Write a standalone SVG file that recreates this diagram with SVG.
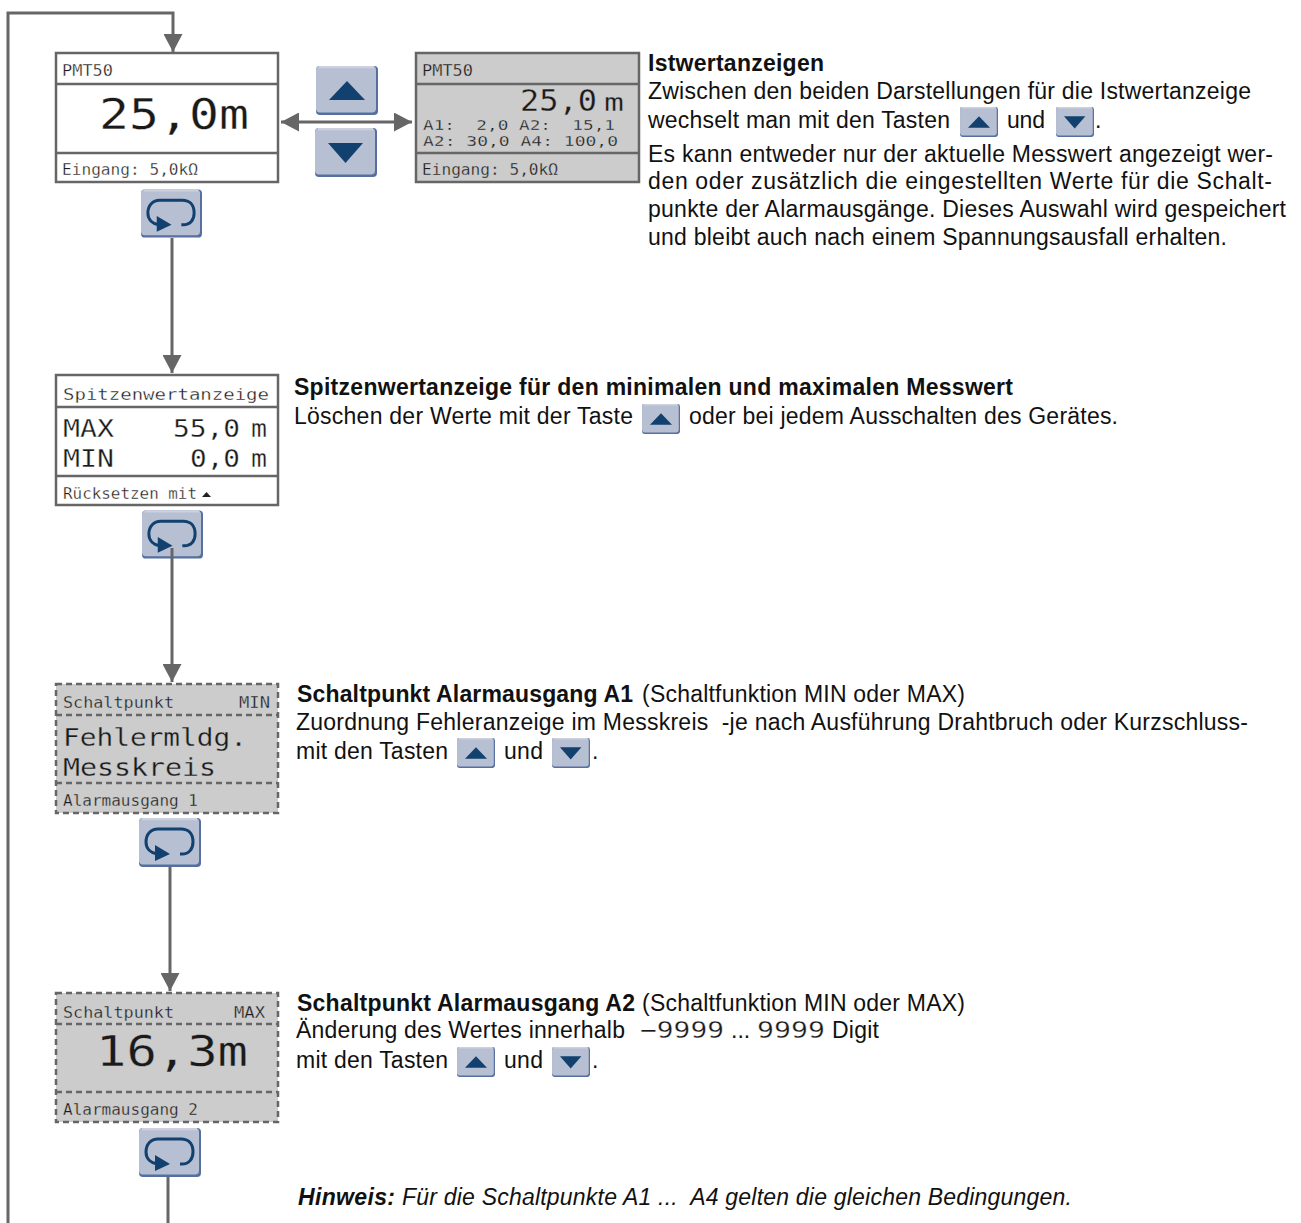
<svg xmlns="http://www.w3.org/2000/svg" width="1301" height="1223" viewBox="0 0 1301 1223">
<style>
text{font-family:"Liberation Sans",Arial,sans-serif;font-size:23px;fill:#111;white-space:pre}
.b{font-weight:bold}
.i{font-style:italic}
.l{font-family:"DejaVu Sans Mono","Liberation Mono",monospace;fill:#1a1a1a;stroke:#fff;stroke-width:.3}
.g .l{stroke:#ccc}
.s{font-size:15.5px}
.m{font-size:25.5px}
.h{font-size:42px}
.p{fill:#fff;stroke:#666;stroke-width:2.5}
.q{fill:#ccc;stroke:#666;stroke-width:2.5}
.d{fill:#ccc;stroke:#666;stroke-width:2.5;stroke-dasharray:6 4}
.sep{stroke:#666;stroke-width:2.500;fill:none}
.sd{stroke:#666;stroke-width:2.5;fill:none;stroke-dasharray:6 4}
.c{stroke:#666;stroke-width:3;fill:none}
</style>
<defs>
<marker id="ah" markerUnits="userSpaceOnUse" markerWidth="19" markerHeight="19" refX="18" refY="9.5" orient="auto-start-reverse"><path d="M0 0L18 9.5L0 19Z" fill="#666"/></marker>
<g id="base">
<rect x="0" y="0" width="62" height="49" rx="4" fill="#566f9f"/>
<rect x="0" y="0" width="60" height="46.500" rx="4" fill="#b7bfd3"/>
<path d="M3 1H58" stroke="#cdd1dd" stroke-width="2.5" fill="none"/>
</g>
<symbol id="up" viewBox="0 0 62 49"><use href="#base"/><path d="M13 34L31 15L49 34Z" fill="#12406f"/></symbol>
<symbol id="down" viewBox="0 0 62 49"><use href="#base"/><path d="M13 15H48L30.500 35Z" fill="#12406f"/></symbol>
<symbol id="loop" viewBox="0 0 62 49"><use href="#base"/><path d="M41 36H43C50 36 54 31 54 24C54 15 49 11 42 11H19C12 11 7 16 7 24C7 31 12 35 18 36" fill="none" stroke="#12406f" stroke-width="3"/><path d="M16 27L31 36L16 43Z" fill="#12406f"/></symbol>
</defs>

<g id="node-istwert-1">
<rect class="p" x="56" y="53" width="222" height="129"/>
<path class="sep" d="M56 84H278M56 153H278"/>
<text class="l s" x="62" y="76" textLength="51" lengthAdjust="spacingAndGlyphs">PMT50</text>
<text class="l h" x="99" y="129" textLength="150" lengthAdjust="spacingAndGlyphs">25,0m</text>
<text class="l s" x="62" y="175" textLength="136" lengthAdjust="spacingAndGlyphs">Eingang: 5,0kΩ</text>
</g>

<g id="node-istwert-2" class="g">
<rect class="q" x="416" y="53" width="223" height="129"/>
<path class="sep" d="M416 84H639M416 153H639"/>
<text class="l s" x="422" y="76" textLength="51" lengthAdjust="spacingAndGlyphs">PMT50</text>
<text class="l" style="font-size:30px" x="520" y="111" textLength="77" lengthAdjust="spacingAndGlyphs">25,0</text>
<text class="l" style="font-size:24px" x="604" y="111" textLength="20" lengthAdjust="spacingAndGlyphs">m</text>
<text class="l" style="font-size:14px" x="423" y="130" textLength="192" lengthAdjust="spacingAndGlyphs">A1:  2,0 A2:  15,1</text>
<text class="l" style="font-size:14px" x="423" y="146" textLength="195" lengthAdjust="spacingAndGlyphs">A2: 30,0 A4: 100,0</text>
<text class="l s" x="422" y="175" textLength="136" lengthAdjust="spacingAndGlyphs">Eingang: 5,0kΩ</text>
</g>

<g id="btn-up"><use href="#up" x="316" y="66" width="62" height="49"/></g>
<g id="btn-down"><use href="#down" x="315" y="128" width="62" height="49"/></g>
<g id="btn-loop-1"><use href="#loop" x="141" y="189" width="61" height="49"/></g>

<g id="node-spitzenwert">
<rect class="p" x="56" y="375" width="222" height="130"/>
<path class="sep" d="M56 407H278M56 476H278"/>
<text class="l s" x="63" y="400" textLength="206" lengthAdjust="spacingAndGlyphs">Spitzenwertanzeige</text>
<text class="l m" x="63" y="437" textLength="51" lengthAdjust="spacingAndGlyphs">MAX</text>
<text class="l m" x="173" y="437" textLength="67" lengthAdjust="spacingAndGlyphs">55,0</text>
<text class="l" style="font-size:24px" x="251" y="437" textLength="16" lengthAdjust="spacingAndGlyphs">m</text>
<text class="l m" x="63" y="467" textLength="51" lengthAdjust="spacingAndGlyphs">MIN</text>
<text class="l m" x="190" y="467" textLength="50" lengthAdjust="spacingAndGlyphs">0,0</text>
<text class="l" style="font-size:24px" x="251" y="467" textLength="16" lengthAdjust="spacingAndGlyphs">m</text>
<text class="l s" x="63" y="499" textLength="134" lengthAdjust="spacingAndGlyphs">Rücksetzen mit</text>
<path d="M202 497L206.500 492L211 497Z" fill="#222"/>
</g>
<g id="btn-loop-2"><use href="#loop" x="142" y="510" width="61" height="49"/></g>

<g id="node-alarm-1" class="g">
<rect class="d" x="56" y="684" width="222" height="129"/>
<path class="sd" d="M56 715H278M56 783H278"/>
<text class="l s" x="63" y="708" textLength="111" lengthAdjust="spacingAndGlyphs">Schaltpunkt</text>
<text class="l s" x="239" y="708" textLength="31" lengthAdjust="spacingAndGlyphs">MIN</text>
<text class="l m" x="63" y="746" textLength="184" lengthAdjust="spacingAndGlyphs">Fehlermldg.</text>
<text class="l m" x="63" y="776" textLength="153" lengthAdjust="spacingAndGlyphs">Messkreis</text>
<text class="l s" x="63" y="806" textLength="135" lengthAdjust="spacingAndGlyphs">Alarmausgang 1</text>
</g>
<g id="btn-loop-3"><use href="#loop" x="139" y="818" width="62" height="49"/></g>

<g id="node-alarm-2" class="g">
<rect class="d" x="56" y="993" width="222" height="129"/>
<path class="sd" d="M56 1024H278M56 1092H278"/>
<text class="l s" x="63" y="1018" textLength="111" lengthAdjust="spacingAndGlyphs">Schaltpunkt</text>
<text class="l s" x="234" y="1018" textLength="31" lengthAdjust="spacingAndGlyphs">MAX</text>
<text class="l h" x="96" y="1066" textLength="152" lengthAdjust="spacingAndGlyphs">16,3m</text>
<text class="l s" x="63" y="1115" textLength="135" lengthAdjust="spacingAndGlyphs">Alarmausgang 2</text>
</g>
<g id="btn-loop-4"><use href="#loop" x="139" y="1128" width="62" height="49"/></g>

<g id="connectors">
<path class="c" d="M8 1223V13H173V52" marker-end="url(#ah)"/>
<path class="c" d="M172 238V373" marker-end="url(#ah)"/>
<path class="c" d="M172 548V682" marker-end="url(#ah)"/>
<path class="c" d="M170 867V991" marker-end="url(#ah)"/>
<path class="c" d="M168 1177V1223"/>
<path class="c" d="M281 122H412" marker-start="url(#ah)" marker-end="url(#ah)"/>
</g>

<g id="text-istwert">
<text class="b" x="648" y="71" textLength="176">Istwertanzeigen</text>
<text x="648" y="99" textLength="603">Zwischen den beiden Darstellungen für die Istwertanzeige</text>
<text x="648" y="128" textLength="302">wechselt man mit den Tasten</text>
<use href="#up" x="960" y="107" width="38" height="30"/>
<text x="1007" y="128" textLength="38">und</text>
<use href="#down" x="1056" y="107" width="38" height="30"/>
<text x="1095" y="128">.</text>
<text x="648" y="162" textLength="625">Es kann entweder nur der aktuelle Messwert angezeigt wer-</text>
<text x="648" y="189" textLength="624">den oder zusätzlich die eingestellten Werte für die Schalt-</text>
<text x="648" y="217" textLength="638">punkte der Alarmausgänge. Dieses Auswahl wird gespeichert</text>
<text x="648" y="245" textLength="579">und bleibt auch nach einem Spannungsausfall erhalten.</text>
</g>

<g id="text-spitzenwert">
<text class="b" x="294" y="395" textLength="719">Spitzenwertanzeige für den minimalen und maximalen Messwert</text>
<text x="294" y="424" textLength="339">Löschen der Werte mit der Taste</text>
<use href="#up" x="642" y="404" width="38" height="30"/>
<text x="689" y="424" textLength="429">oder bei jedem Ausschalten des Gerätes.</text>
</g>

<g id="text-alarm-1">
<text class="b" x="297" y="702" textLength="336">Schaltpunkt Alarmausgang A1</text>
<text x="642" y="702" textLength="323">(Schaltfunktion MIN oder MAX)</text>
<text x="296" y="730" textLength="952">Zuordnung Fehleranzeige im Messkreis  -je nach Ausführung Drahtbruch oder Kurzschluss-</text>
<text x="296" y="759" textLength="152">mit den Tasten</text>
<use href="#up" x="457" y="738" width="38" height="30"/>
<text x="504" y="759" textLength="39">und</text>
<use href="#down" x="552" y="738" width="38" height="30"/>
<text x="592" y="759">.</text>
</g>

<g id="text-alarm-2">
<text class="b" x="297" y="1011" textLength="338">Schaltpunkt Alarmausgang A2</text>
<text x="642" y="1011" textLength="323">(Schaltfunktion MIN oder MAX)</text>
<text x="296" y="1038" textLength="329">Änderung des Wertes innerhalb</text>
<text class="l" style="font-size:23px" x="640" y="1038" textLength="84" lengthAdjust="spacingAndGlyphs">−9999</text>
<text x="731" y="1038">...</text>
<text class="l" style="font-size:23px" x="757" y="1038" textLength="68" lengthAdjust="spacingAndGlyphs">9999</text>
<text x="832" y="1038" textLength="47">Digit</text>
<text x="296" y="1068" textLength="152">mit den Tasten</text>
<use href="#up" x="457" y="1047" width="38" height="30"/>
<text x="504" y="1068" textLength="39">und</text>
<use href="#down" x="552" y="1047" width="38" height="30"/>
<text x="592" y="1068">.</text>
</g>

<g id="text-hinweis">
<text class="b i" x="298" y="1205" textLength="97">Hinweis:</text>
<text class="i" x="402" y="1205" textLength="670">Für die Schaltpunkte A1 ...  A4 gelten die gleichen Bedingungen.</text>
</g>
</svg>
